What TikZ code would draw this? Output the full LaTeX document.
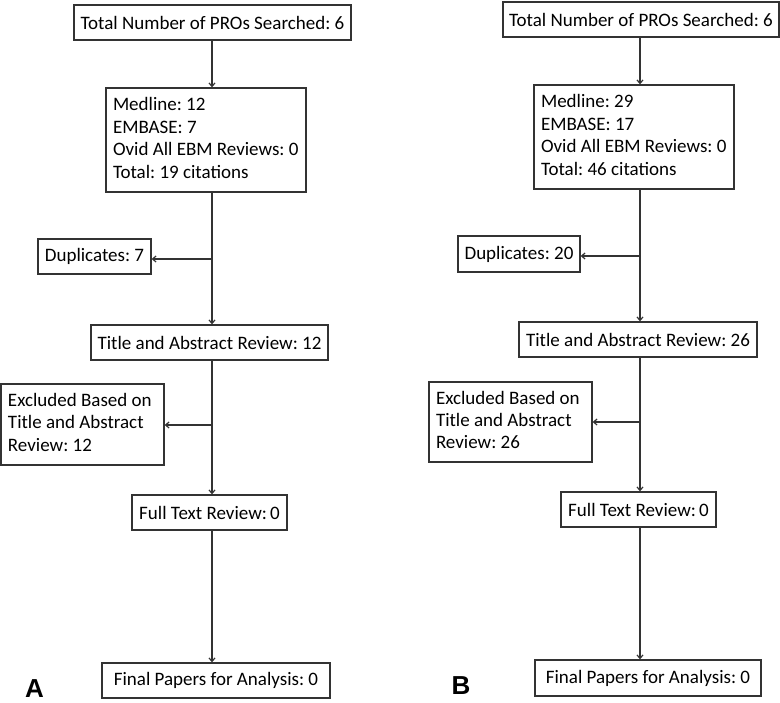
\documentclass[tikz,border=0pt]{standalone}
\usepackage{fontspec}
\setmainfont{Carlito}
\newfontfamily\lblfont{Liberation Sans}
\usetikzlibrary{arrows.meta}
\frenchspacing
\newcommand{\lines}[2]{\makebox[#1][l]{\begin{tabular}{@{}l@{}}#2\end{tabular}}}
\begin{document}
\begin{tikzpicture}[x=1bp,y=-1bp,
 box/.style={draw=black!80, line width=1.3bp, inner sep=0pt, minimum height=35bp,
   font=\fontsize{19bp}{22.4bp}\selectfont\frenchspacing, anchor=center},
 arr/.style={draw=black!80, line width=1.2bp, -{Straight Barb[length=3.5bp,width=6bp]}},
 lbl/.style={font=\lblfont\bfseries\fontsize{26bp}{26bp}\selectfont, inner sep=0pt}]
\useasboundingbox (0,0) rectangle (780,703);
% ---------- Panel A ----------
\node[box, minimum width=277bp] (topA) at (212.5,22.5) {Total Number of PROs Searched: 6};
\node[box, minimum width=200bp, minimum height=104bp] (medA) at (206,140)
  {\lines{186bp}{Medline: 12\\EMBASE: 7\\Ovid All EBM Reviews: 0\\Total: 19 citations}};
\node[box, minimum width=113bp] (dupA) at (94.5,256.5) {Duplicates: 7};
\node[box, minimum width=237bp] (titA) at (209.5,342.5) {Title and Abstract Review: 12};
\node[box, minimum width=163bp, minimum height=81bp] (excA) at (82.5,424.5)
  {\lines{149bp}{Excluded Based on\\Title and Abstract\\Review: 12}};
\node[box, minimum width=155bp] (fullA) at (209.5,512.5) {Full Text Review:\,0};
\node[box, minimum width=228bp] (finA) at (216,680.5) {Final Papers for Analysis: 0};
\node[lbl] (labA) at (34.5,688.5) {A};
\coordinate (spA) at (212,0);
\coordinate (dA) at (212,259);
\coordinate (eA) at (212,425);
\draw[arr] (topA.south -| spA) -- (medA.north -| spA);
\draw[arr] (medA.south -| spA) -- (titA.north -| spA);
\draw[arr] (dA) -- (dA -| dupA.east);
\draw[arr] (titA.south -| spA) -- (fullA.north -| spA);
\draw[arr] (eA) -- (eA -| excA.east);
\draw[arr] (fullA.south -| spA) -- (finA.north -| spA);
% ---------- Panel B ----------
\node[box, minimum width=276bp] (topB) at (641,19.5) {Total Number of PROs Searched: 6};
\node[box, minimum width=200bp, minimum height=104bp] (medB) at (634,137)
  {\lines{186bp}{Medline: 29\\EMBASE: 17\\Ovid All EBM Reviews: 0\\Total: 46 citations}};
\node[box, minimum width=122bp, minimum height=36bp] (dupB) at (519,254) {Duplicates: 20};
\node[box, minimum width=238bp] (titB) at (638,339.5) {Title and Abstract Review: 26};
\node[box, minimum width=163bp, minimum height=80bp] (excB) at (510.5,422)
  {\lines{149bp}{Excluded Based on\\Title and Abstract\\Review: 26}};
\node[box, minimum width=155bp] (fullB) at (638.5,509.5) {Full Text Review:\,0};
\node[box, minimum width=226bp, minimum height=36bp] (finB) at (648,678) {Final Papers for Analysis: 0};
\node[lbl] (labB) at (461,686) {B};
\coordinate (spB) at (640,0);
\coordinate (dB) at (640,256);
\coordinate (eB) at (640,422);
\draw[arr] (topB.south -| spB) -- (medB.north -| spB);
\draw[arr] (medB.south -| spB) -- (titB.north -| spB);
\draw[arr] (dB) -- (dB -| dupB.east);
\draw[arr] (titB.south -| spB) -- (fullB.north -| spB);
\draw[arr] (eB) -- (eB -| excB.east);
\draw[arr] (fullB.south -| spB) -- (finB.north -| spB);
\end{tikzpicture}
\end{document}
